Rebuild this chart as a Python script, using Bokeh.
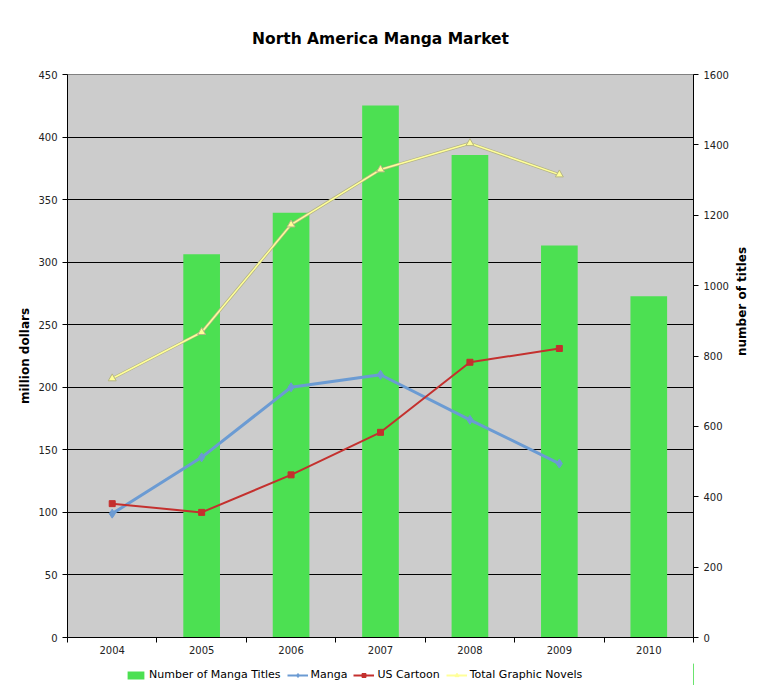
import math
from bokeh.plotting import figure
from bokeh.layouts import column
from bokeh.models import Range1d, LinearAxis, FixedTicker, Legend, LegendItem
from bokeh.embed import file_html
from bokeh.resources import INLINE

# ---- data ----
years = [2004, 2005, 2006, 2007, 2008, 2009, 2010]
title_years = [2005, 2006, 2007, 2008, 2009, 2010]
manga_titles = [1089, 1207, 1512, 1371, 1114, 970]          # right axis (number of titles)
line_years = [2004, 2005, 2006, 2007, 2008, 2009]
manga = [99, 144, 200, 210, 174, 139]                      # million dollars
us_cartoon = [107, 100, 130, 164, 220, 231]                # million dollars
total_graphic_novels = [207, 244, 330, 374, 395, 370]      # million dollars
left_ticks = [0, 50, 100, 150, 200, 250, 300, 350, 400, 450]
right_ticks = [0, 200, 400, 600, 800, 1000, 1200, 1400, 1600]
series_names = ["Number of Manga Titles", "Manga", "US Cartoon", "Total Graphic Novels"]

FONT = "DejaVu Sans"
GREEN = "#4CE052"
BLUE = "#6B9BD3"
RED = "#C4302E"
YELLOW = "#FFFF99"
YEDGE = "#B5B585"

p = figure(frame_width=626, frame_height=563,
           min_border_left=67, min_border_right=74, min_border_top=74, min_border_bottom=26,
           x_range=Range1d(years[0] - 0.5, years[-1] + 0.5),
           y_range=Range1d(left_ticks[0], left_ticks[-1]),
           output_backend="svg", toolbar_location=None)
p.extra_y_ranges = {"titles": Range1d(right_ticks[0], right_ticks[-1])}

p.background_fill_color = "#CCCCCC"
p.border_fill_color = "white"
p.outline_line_color = "#808080"

# title
p.title.text = "North America Manga Market"
p.title.align = "center"
p.title.text_font = FONT
p.title.text_font_size = "15.5px"
p.title.text_font_style = "bold"
p.title.text_color = "black"
p.title.standoff = 54

# grid
p.xgrid.visible = False
p.ygrid.ticker = FixedTicker(ticks=left_ticks)
p.ygrid.grid_line_color = "black"
p.ygrid.grid_line_width = 1

# x axis: labels at year centers, tick marks between categories
xa = p.xaxis[0]
xa.ticker = FixedTicker(ticks=years, minor_ticks=[y - 0.5 for y in years] + [years[-1] + 0.5])
xa.major_label_overrides = {y: str(y) for y in years}
xa.major_tick_out = 0
xa.major_tick_in = 0
xa.minor_tick_out = 5
xa.minor_tick_in = 0
xa.minor_tick_line_color = "black"
xa.axis_line_color = "black"
xa.major_label_text_font = FONT
xa.major_label_text_font_size = "10px"
xa.major_label_text_color = "#222222"
xa.major_label_standoff = 3

# left axis
ya = p.yaxis[0]
ya.ticker = FixedTicker(ticks=left_ticks)
ya.major_tick_out = 5
ya.major_tick_in = 0
ya.minor_tick_line_color = None
ya.axis_line_color = "black"
ya.major_tick_line_color = "black"
ya.major_label_text_font = FONT
ya.major_label_text_font_size = "10px"
ya.major_label_text_color = "#222222"
ya.axis_label = "million dollars"
ya.axis_label_text_font = FONT
ya.axis_label_text_font_size = "12px"
ya.axis_label_text_font_style = "bold"
ya.axis_label_text_color = "black"
ya.axis_label_standoff = 3

# right axis
ra = LinearAxis(y_range_name="titles", ticker=FixedTicker(ticks=right_ticks))
ra.major_tick_out = 5
ra.major_tick_in = 0
ra.minor_tick_line_color = None
ra.axis_line_color = "black"
ra.major_tick_line_color = "black"
ra.major_label_text_font = FONT
ra.major_label_text_font_size = "10px"
ra.major_label_text_color = "#222222"
ra.axis_label = "number of titles"
ra.axis_label_text_font = FONT
ra.axis_label_text_font_size = "12px"
ra.axis_label_text_font_style = "bold"
ra.axis_label_text_color = "black"
ra.axis_label_standoff = 10
ra.axis_label_orientation = math.pi / 2
p.add_layout(ra, "right")

# bars
p.vbar(x=title_years, top=manga_titles, width=0.41, y_range_name="titles",
       fill_color=GREEN, line_color=None)

# lines
p.line(line_years, manga, line_color=BLUE, line_width=3)
p.scatter(line_years, manga, marker="diamond", size=9, fill_color=BLUE, line_color=BLUE)

p.line(line_years, us_cartoon, line_color=RED, line_width=2)
p.scatter(line_years, us_cartoon, marker="square", size=6, fill_color=RED, line_color=RED)

p.line(line_years, total_graphic_novels, line_color=YEDGE, line_width=3)
p.line(line_years, total_graphic_novels, line_color=YELLOW, line_width=1.5)
p.scatter(line_years, total_graphic_novels, marker="triangle", size=8,
          fill_color=YELLOW, line_color=YEDGE)

# ---- legend strip below the chart (same series, outside its view range: only keys show) ----
lg = figure(width=767, height=22, x_range=Range1d(0, 1), y_range=Range1d(0, 1),
            min_border_left=0, min_border_right=0, min_border_top=0, min_border_bottom=0,
            x_axis_type=None, y_axis_type=None,
            output_backend="svg", toolbar_location=None)
lg.outline_line_color = None
lg.background_fill_color = "white"
lg.border_fill_color = "white"
lg.grid.visible = False

k_bar = lg.vbar(x=title_years, top=manga_titles, width=0.41, fill_color=GREEN, line_color=None)
k_m_line = lg.line(line_years, manga, line_color=BLUE, line_width=2)
k_m_pts = lg.scatter(line_years, manga, marker="diamond", size=7, fill_color=BLUE, line_color=BLUE)
k_c_line = lg.line(line_years, us_cartoon, line_color=RED, line_width=2)
k_c_pts = lg.scatter(line_years, us_cartoon, marker="square", size=6, fill_color=RED, line_color=RED)
k_t_line = lg.line(line_years, total_graphic_novels, line_color=YELLOW, line_width=2)
k_t_pts = lg.scatter(line_years, total_graphic_novels, marker="triangle", size=7,
                     fill_color=YELLOW, line_color=YELLOW)

legend = Legend(items=[
    LegendItem(label=series_names[0], renderers=[k_bar]),
    LegendItem(label=series_names[1], renderers=[k_m_line, k_m_pts]),
    LegendItem(label=series_names[2], renderers=[k_c_line, k_c_pts]),
    LegendItem(label=series_names[3], renderers=[k_t_line, k_t_pts]),
], orientation="horizontal", location=(58, 4))
legend.label_text_font = FONT
legend.label_text_font_size = "11px"
legend.label_text_color = "black"
legend.glyph_width = 21
legend.glyph_height = 10
legend.label_standoff = 3
legend.spacing = 6
legend.padding = 0
legend.margin = 0
legend.border_line_color = None
legend.background_fill_alpha = 0
lg.add_layout(legend, "center")

layout = column(p, lg, spacing=0)
open("out.html", "w").write(file_html(layout, INLINE))
